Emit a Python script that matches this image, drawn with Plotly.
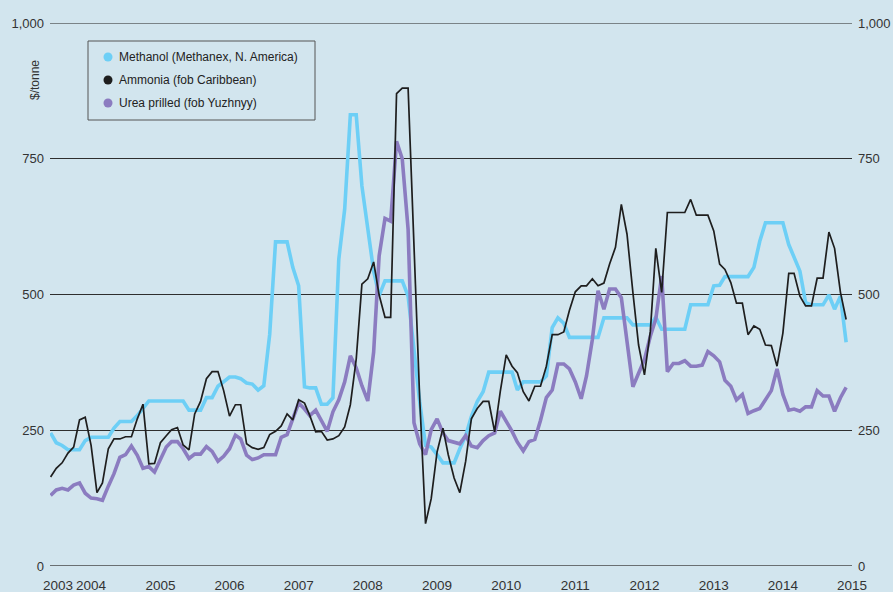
import pandas as pd
import plotly.graph_objects as go

# Monthly observations, June 2003 .. December 2014 ($/tonne)
months = pd.date_range("2003-06-01", periods=139, freq="MS")

methanol = [245, 227, 222, 214, 214, 214, 231, 237, 237, 237,
            237, 254, 266, 266, 266, 277, 291, 304, 304, 304,
            304, 304, 304, 304, 287, 287, 287, 310, 310, 331,
            340, 348, 348, 345, 337, 335, 324, 332, 426, 597,
            597, 597, 550, 516, 330, 328, 328, 298, 298, 310,
            565, 657, 831, 831, 700, 620, 543, 498, 525, 525,
            525, 525, 497, 400, 303, 222, 219, 205, 190, 190,
            190, 216, 240, 275, 303, 321, 357, 357, 357, 357,
            357, 324, 339, 339, 339, 339, 350, 439, 457, 447,
            421, 421, 421, 421, 421, 421, 457, 457, 457, 457,
            457, 444, 444, 444, 444, 458, 436, 436, 436, 436,
            436, 481, 481, 481, 481, 516, 517, 533, 533, 533,
            533, 533, 550, 598, 632, 632, 632, 632, 592, 568,
            543, 485, 481, 481, 481, 499, 473, 497, 412]

ammonia = [164, 180, 190, 208, 219, 269, 274, 222, 135, 153,
           216, 234, 234, 238, 238, 271, 298, 188, 189, 227,
           240, 251, 255, 223, 214, 280, 303, 345, 358, 358,
           323, 276, 297, 297, 225, 218, 215, 218, 242, 248,
           258, 280, 269, 306, 300, 277, 247, 248, 232, 234,
           240, 256, 297, 381, 519, 529, 560, 499, 458, 458,
           870, 880, 880, 580, 310, 78, 124, 210, 254, 205,
           162, 135, 193, 271, 290, 303, 303, 247, 322, 389,
           368, 356, 321, 304, 331, 331, 368, 426, 426, 431,
           471, 505, 516, 516, 529, 516, 521, 556, 587, 666,
           611, 504, 407, 352, 432, 585, 504, 651, 651, 651,
           651, 675, 646, 646, 646, 617, 556, 546, 522, 484,
           484, 426, 442, 436, 407, 406, 368, 429, 539, 539,
           497, 479, 479, 530, 530, 615, 585, 504, 454]

urea = [130, 140, 143, 140, 149, 153, 134, 125, 124, 121,
        147, 170, 200, 205, 221, 204, 180, 183, 173, 196,
        219, 229, 229, 216, 198, 206, 206, 220, 211, 193,
        202, 216, 241, 234, 204, 196, 199, 205, 205, 205,
        237, 242, 271, 300, 289, 277, 287, 268, 248, 284,
        306, 339, 387, 365, 332, 304, 394, 571, 640, 635,
        782, 750, 620, 264, 225, 205, 251, 271, 245, 231,
        228, 225, 240, 221, 218, 231, 240, 245, 285, 268,
        248, 228, 212, 229, 233, 268, 310, 324, 372, 372,
        363, 339, 308, 350, 417, 507, 473, 510, 510, 494,
        407, 330, 355, 380, 423, 455, 534, 358, 373, 373,
        378, 368, 368, 370, 395, 387, 376, 342, 331, 306,
        316, 281, 286, 290, 306, 323, 363, 316, 287, 289,
        285, 293, 293, 323, 313, 313, 285, 310, 329]

year_labels = ["2003", "2004", "2005", "2006", "2007", "2008", "2009",
               "2010", "2011", "2012", "2013", "2014", "2015"]
year_ticks = ["2003-07-10"] + [f"{y}-01-01" for y in range(2004, 2016)]

y_ticks = [0, 250, 500, 750, 1000]
y_labels = ["0", "250", "500", "750", "1,000"]

names = ["Methanol (Methanex, N. America)", "Ammonia (fob Caribbean)",
         "Urea prilled (fob Yuzhnyy)"]

C_MET = "#6dcff6"
C_AMM = "#1e1e1e"
C_URE = "#8b7cc0"
BG = "#d2e5ee"
FONT = "Liberation Sans, Arial, sans-serif"

# plot-area geometry in pixels (for legend/label placement)
L, R, T, B = 50, 852, 23, 566
def px(x):
    return (x - L) / (R - L)
def py(y):
    return (B - y) / (B - T)

fig = go.Figure()
fig.add_trace(go.Scatter(x=months, y=methanol, mode="lines", name=names[0],
                         line=dict(color=C_MET, width=3.6), showlegend=False,
                         hoverinfo="skip"))
fig.add_trace(go.Scatter(x=months, y=urea, mode="lines", name=names[2],
                         line=dict(color=C_URE, width=3.6), showlegend=False,
                         hoverinfo="skip"))
fig.add_trace(go.Scatter(x=months, y=ammonia, mode="lines", name=names[1],
                         line=dict(color=C_AMM, width=1.7), showlegend=False,
                         hoverinfo="skip"))
# right-hand axis copy (invisible, only to carry the right scale)
fig.add_trace(go.Scatter(x=months, y=ammonia, mode="lines", yaxis="y2",
                         line=dict(color="rgba(0,0,0,0)", width=0),
                         showlegend=False, hoverinfo="skip"))

# manual legend: box, round markers, labels
shapes = [
    dict(type="line", xref="paper", yref="y", x0=0, x1=1, y0=0, y1=0,
         line=dict(color="#6a6f72", width=2), layer="below"),
    dict(type="line", xref="paper", yref="y", x0=0, x1=1, y0=1000, y1=1000,
         line=dict(color="#5d6265", width=1.5), layer="below"),
    dict(type="rect", xref="paper", yref="paper",
         x0=px(88), x1=px(315), y0=py(120), y1=py(41),
         line=dict(color="#555555", width=1), fillcolor="rgba(0,0,0,0)"),
]
annotations = [
    dict(text="$/tonne", xref="paper", yref="paper",
         x=px(35), y=py(80), showarrow=False,
         textangle=-90, font=dict(size=12, color="#333333"),
         xanchor="center", yanchor="middle"),
]
rows = [57, 80, 103]
for nm, col, ry in zip(names, [C_MET, C_AMM, C_URE], rows):
    shapes.append(dict(type="circle", xref="paper", yref="paper",
                       x0=px(103.5), x1=px(112.5), y0=py(ry + 4.5), y1=py(ry - 4.5),
                       line=dict(width=0), fillcolor=col))
    annotations.append(dict(text=nm, xref="paper", yref="paper",
                            x=px(117), y=py(ry), showarrow=False,
                            xanchor="left", yanchor="middle",
                            font=dict(size=12, color="#222222")))

fig.update_layout(
    width=893, height=592,
    margin=dict(l=L, r=893 - R, t=T, b=592 - B, autoexpand=False),
    paper_bgcolor=BG, plot_bgcolor=BG,
    font=dict(family=FONT, size=13, color="#333333"),
    showlegend=False,
    hovermode=False,
    xaxis=dict(type="date", range=["2003-05-29", "2015-01-01"],
               tickvals=year_ticks, ticktext=year_labels, tickangle=0,
               showgrid=False, zeroline=False, showline=False, ticks="",
               tickfont=dict(size=13.5, color="#333333"),
               ticklabelstandoff=9, automargin=False),
    yaxis=dict(range=[0, 1000], tickvals=y_ticks, ticktext=y_labels,
               showgrid=True, gridcolor="#2e2e2e", gridwidth=1,
               zeroline=False, showline=False, ticks="",
               tickfont=dict(size=13, color="#333333"),
               ticklabelstandoff=5, automargin=False),
    yaxis2=dict(range=[0, 1000], tickvals=y_ticks, ticktext=y_labels,
                overlaying="y", side="right", showgrid=False,
                zeroline=False, showline=False, ticks="",
                tickfont=dict(size=13, color="#333333"),
                ticklabelstandoff=5, automargin=False),
    shapes=shapes,
    annotations=annotations,
)

fig.write_html(
    "out.html",
    config={"displayModeBar": False, "staticPlot": True},
    post_script="document.body.style.margin='0px';"
                "document.body.style.background='" + BG + "';"
                "document.documentElement.style.overflow='hidden';",
)
